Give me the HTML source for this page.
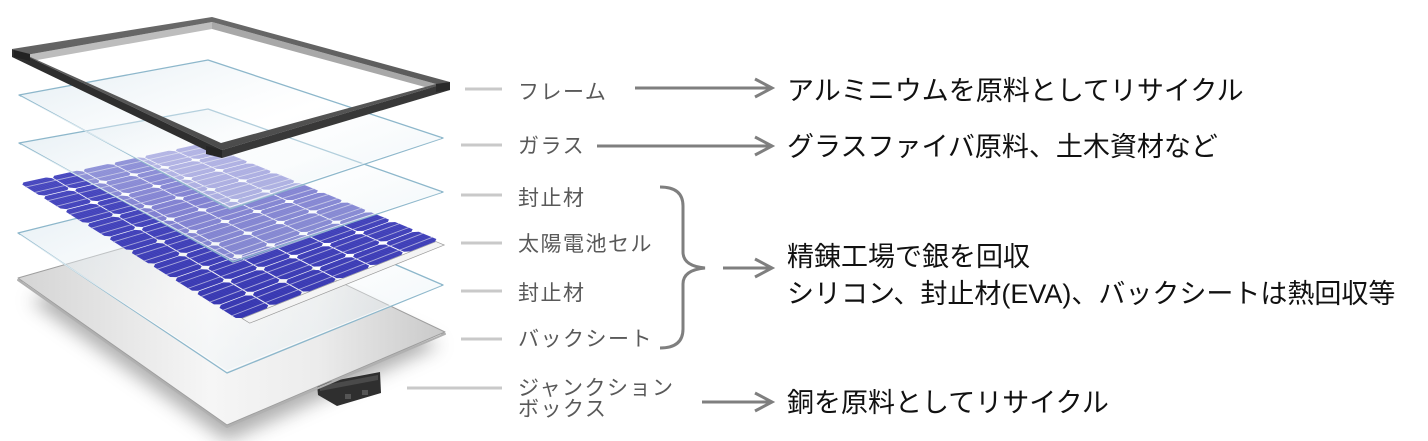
<!DOCTYPE html>
<html><head><meta charset="utf-8">
<style>
html,body{margin:0;padding:0;background:#fff;width:1428px;height:441px;overflow:hidden;}
svg{display:block;}
.lab{font-family:"Liberation Sans","Noto Sans CJK JP",sans-serif;font-size:21px;fill:#595959;letter-spacing:1.5px;}
.big{font-family:"Liberation Sans","Noto Sans CJK JP",sans-serif;font-size:27px;fill:#111;}
</style></head>
<body>
<svg width="1428" height="441" viewBox="0 0 1428 441" xmlns="http://www.w3.org/2000/svg">
<defs>
 <filter id="blur" x="-30%" y="-30%" width="160%" height="180%"><feGaussianBlur stdDeviation="9"/></filter>
 <linearGradient id="sheet" x1="18" y1="0" x2="445" y2="0" gradientUnits="userSpaceOnUse">
   <stop offset="0" stop-color="#d4d4d4"/><stop offset="0.45" stop-color="#f6f6f6"/><stop offset="0.7" stop-color="#ececec"/><stop offset="1" stop-color="#c9c9c9"/>
 </linearGradient>
 <linearGradient id="glass" x1="0" y1="0" x2="1" y2="1">
   <stop offset="0" stop-color="#cfe0ea" stop-opacity="0.6"/><stop offset="0.5" stop-color="#ffffff" stop-opacity="0.32"/><stop offset="1" stop-color="#d6e6ee" stop-opacity="0.5"/>
 </linearGradient>
 <linearGradient id="cellg" x1="0" y1="140" x2="0" y2="320" gradientUnits="userSpaceOnUse">
   <stop offset="0" stop-color="#5252c8"/><stop offset="1" stop-color="#3838b2"/>
 </linearGradient>
 <linearGradient id="ftop" x1="0" y1="0" x2="0" y2="1">
   <stop offset="0" stop-color="#6a6a6a"/><stop offset="1" stop-color="#4a4a4a"/>
 </linearGradient>
</defs>

<!-- shadow -->
<polygon points="30,300 214,240 440,345 227,441" fill="#6f6f6f" opacity="0.55" filter="url(#blur)"/>

<!-- junction box -->
<polygon points="317,384 380,372 381,393 337,406 318,395" fill="#2f2f2f"/>
<polygon points="320,386 378,375 378,380 320,391" fill="#4a4a4a"/>
<rect x="345" y="394" width="6" height="5" fill="#555"/>
<rect x="362" y="390" width="6" height="5" fill="#555"/>

<!-- backsheet -->
<polygon points="18,280 227,427 445,334" fill="none" stroke="#b0b0b0" stroke-width="2" stroke-linejoin="round"/>
<polygon points="18,278 214,222 445,332 227,425" fill="url(#sheet)" stroke="#9e9e9e" stroke-width="1" stroke-linejoin="round"/>

<!-- glass 3 -->
<polygon points="18,233 210,185 443,285 227,373" fill="url(#glass)" stroke="#8db7cb" stroke-width="1.3" stroke-linejoin="round"/>
<polyline points="20,235 227,371 441,285" fill="none" stroke="#ffffff" stroke-opacity="0.7" stroke-width="1"/>

<!-- cells -->
<g id="cells">
  <polygon id="cellfallback" points="19,183 203,143 440,240 238,320" fill="url(#cellg)"/>
</g>

<!-- glass 2 -->
<polygon points="19,143 208,109 443,192 233,262" fill="url(#glass)" stroke="#8db7cb" stroke-width="1.3" stroke-linejoin="round"/>
<polyline points="21,145 233,260 441,192" fill="none" stroke="#ffffff" stroke-opacity="0.7" stroke-width="1"/>
<!-- glass 1 -->
<polygon points="19,95 208,60 443,138 230,209" fill="url(#glass)" stroke="#8db7cb" stroke-width="1.3" stroke-linejoin="round"/>
<polyline points="21,97 230,207 441,138" fill="none" stroke="#ffffff" stroke-opacity="0.7" stroke-width="1"/>

<!-- frame -->
<polygon points="26,55 212,22 212,29 26,62" fill="#bdbdbd"/>
<polygon points="212,22 436,84 436,90 212,29" fill="#a8a8a8"/>
<path d="M12,49 L212,17 L450,82 L222,150 Z M26,55 L221,143 L436,84 L212,22 Z" fill="url(#ftop)" fill-rule="evenodd"/>
<polygon points="12,49 222,150 222,158 12,57" fill="#2e2e2e"/>
<polygon points="222,150 450,82 450,90 222,158" fill="#383838"/>
<polygon points="14,50 30,54 30,61 14,57" fill="#222"/>
<polygon points="436,84 450,82 450,90 436,92" fill="#2a2a2a"/>
<polygon points="206,146 222,150 222,158 206,154" fill="#262626"/>

<!-- gray leader dashes -->
<g stroke="#c9c9c9" stroke-width="3">
 <line x1="465" y1="89" x2="502" y2="89"/>
 <line x1="461" y1="145" x2="502" y2="145"/>
 <line x1="461" y1="195" x2="502" y2="195"/>
 <line x1="461" y1="243" x2="502" y2="243"/>
 <line x1="461" y1="291" x2="502" y2="291"/>
 <line x1="461" y1="339" x2="502" y2="339"/>
 <line x1="407" y1="388" x2="502" y2="388"/>
</g>

<!-- labels -->
<text class="lab" x="518" y="99">フレーム</text>
<text class="lab" x="518" y="153">ガラス</text>
<text class="lab" x="518" y="205">封止材</text>
<text class="lab" x="518" y="251">太陽電池セル</text>
<text class="lab" x="518" y="300">封止材</text>
<text class="lab" x="518" y="346">バックシート</text>
<text class="lab" x="518" y="395">ジャンクション</text>
<text class="lab" x="518" y="416">ボックス</text>

<!-- arrows -->
<g stroke="#7f7f7f" stroke-width="3" fill="none" stroke-linejoin="miter">
 <line x1="635" y1="88" x2="770" y2="88"/>
 <polyline points="755,79 772,88 755,97"/>
 <line x1="597" y1="146" x2="770" y2="146"/>
 <polyline points="755,137 772,146 755,155"/>
 <line x1="723" y1="268" x2="770" y2="268"/>
 <polyline points="755,259 772,268 755,277"/>
 <line x1="702" y1="402" x2="770" y2="402"/>
 <polyline points="755,393 772,402 755,411"/>
 <path d="M660,187 Q683,187 683,206 L683,252 Q683,266 705,268 Q683,270 683,284 L683,329 Q683,348 660,348"/>
</g>

<!-- right texts -->
<text class="big" x="787" y="100">アルミニウムを原料としてリサイクル</text>
<text class="big" x="787" y="156">グラスファイバ原料、土木資材など</text>
<text class="big" x="787" y="266">精錬工場で銀を回収</text>
<text class="big" x="787" y="303">シリコン、封止材(EVA)、バックシートは熱回収等</text>
<text class="big" x="787" y="412">銅を原料としてリサイクル</text>
</svg>
<script>
(function(){
var NS="http://www.w3.org/2000/svg";
var g=document.getElementById("cells");
var fb=document.getElementById("cellfallback");
if(fb)fb.parentNode.removeChild(fb);
var L=[19,183],T=[203,143],R=[440,240],B=[238,320];
function P(u,v){var a=(1-u)*(1-v),b=u*(1-v),c=(1-u)*v,d=u*v;
 return [(L[0]*a+B[0]*b+T[0]*c+R[0]*d).toFixed(2),(L[1]*a+B[1]*b+T[1]*c+R[1]*d).toFixed(2)];}
function el(tag,attrs){var e=document.createElementNS(NS,tag);for(var k in attrs)e.setAttribute(k,attrs[k]);g.appendChild(e);return e;}
function poly(pts,attrs){attrs.points=pts.map(function(p){return P(p[0],p[1]).join(",");}).join(" ");return el("polygon",attrs);}
function line(u0,v0,u1,v1,attrs){var a=P(u0,v0),b=P(u1,v1);attrs.x1=a[0];attrs.y1=a[1];attrs.x2=b[0];attrs.y2=b[1];return el("line",attrs);}
/* ribbon strip along u=1 edge */
poly([[1.0,0.02],[1.035,0.02],[1.035,0.98],[1.0,0.98]],{fill:"#f4f4f4",stroke:"#9a9a9a","stroke-width":"0.7"});
var NU=10,NV=6,gu=0.0018,gv=0.003,cu=0.011,cv=0.019;
for(var i=0;i<NU;i++){for(var j=0;j<NV;j++){
  var u0=i/NU+gu,u1=(i+1)/NU-gu,v0=j/NV+gv,v1=(j+1)/NV-gv;
  poly([[u0+cu,v0],[u1-cu,v0],[u1,v0+cv],[u1,v1-cv],[u1-cu,v1],[u0+cu,v1],[u0,v1-cv],[u0,v0+cv]],{fill:"url(#cellg)"});
  for(var f=1;f<10;f++){var vv=v0+(v1-v0)*f/10;
    line(u0+0.003,vv,u1-0.003,vv,{stroke:"#2a2a8a","stroke-opacity":"0.3","stroke-width":"0.5"});}
}}
for(var i=0;i<NU;i++){var ks=[0.3,0.7];
  for(var k=0;k<2;k++){var u=(i+ks[k])/NU;
    line(u,0.0,u,1.0,{stroke:"#c4c4e4","stroke-opacity":"0.8","stroke-width":"0.9"});}}
})();
</script>
</body></html>
